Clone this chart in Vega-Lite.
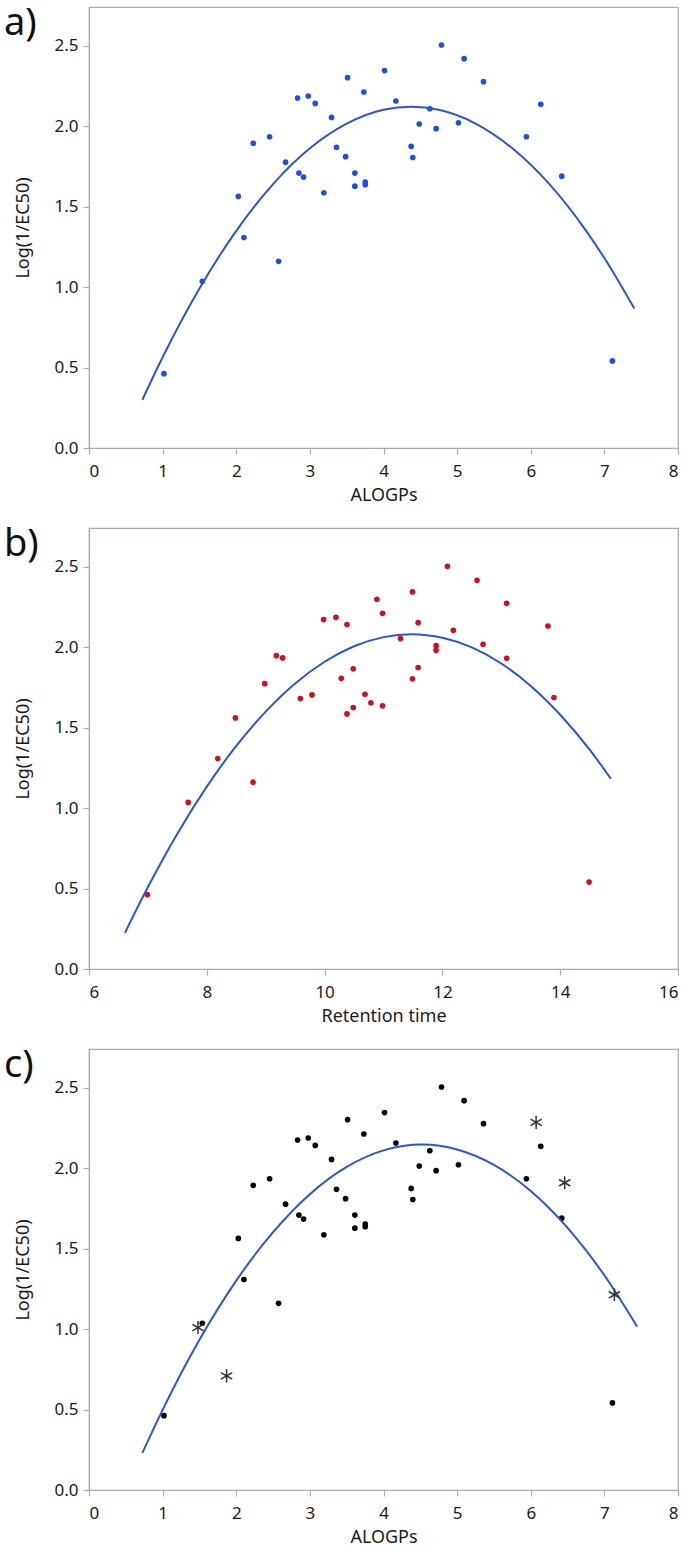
{
  "$schema": "https://vega.github.io/schema/vega-lite/v6.json",
  "padding": {"left": 3, "top": 4, "right": 5, "bottom": 0},
  "spacing": 20,
  "config": {
    "font": "Noto Sans",
    "view": {"stroke": "#a3adb2", "strokeWidth": 1.2},
    "axis": {
      "grid": false,
      "domainColor": "#a3adb2",
      "domainWidth": 1.2,
      "tickColor": "#a3adb2",
      "tickWidth": 1.2,
      "tickSize": 6,
      "labelFont": "Noto Sans",
      "labelFontSize": 17,
      "labelColor": "#1a1a1a",
      "titleFont": "Noto Sans",
      "titleFontSize": 18,
      "titleFontWeight": "normal",
      "titleColor": "#1a1a1a"
    },
    "axisX": {"labelPadding": 9, "titlePadding": 7},
    "axisY": {"labelPadding": 5, "titlePadding": 21},
    "title": {"font": "Noto Sans", "fontSize": 38, "fontWeight": "normal", "color": "#111111", "anchor": "start", "frame": "bounds", "baseline": "top", "offset": 0, "dx": -11, "dy": 40}
  },
  "datasets": {
    "alogp": [
      {"x": 1.018, "y": 0.462}, {"x": 1.539, "y": 1.036}, {"x": 2.028, "y": 1.563}, {"x": 2.104, "y": 1.308},
      {"x": 2.231, "y": 1.893}, {"x": 2.453, "y": 1.934}, {"x": 2.575, "y": 1.160}, {"x": 2.670, "y": 1.776},
      {"x": 2.833, "y": 2.174}, {"x": 2.978, "y": 2.187}, {"x": 3.073, "y": 2.141}, {"x": 2.851, "y": 1.708},
      {"x": 2.914, "y": 1.683}, {"x": 3.190, "y": 1.586}, {"x": 3.294, "y": 2.054}, {"x": 3.362, "y": 1.868},
      {"x": 3.485, "y": 1.810}, {"x": 3.512, "y": 2.301}, {"x": 3.733, "y": 2.212}, {"x": 3.611, "y": 1.708},
      {"x": 3.611, "y": 1.627}, {"x": 3.752, "y": 1.652}, {"x": 3.752, "y": 1.636}, {"x": 4.014, "y": 2.345},
      {"x": 4.168, "y": 2.156}, {"x": 4.629, "y": 2.108}, {"x": 4.485, "y": 2.013}, {"x": 4.715, "y": 1.984},
      {"x": 4.376, "y": 1.874}, {"x": 4.398, "y": 1.805}, {"x": 4.788, "y": 2.504}, {"x": 5.095, "y": 2.419},
      {"x": 5.018, "y": 2.021}, {"x": 5.358, "y": 2.276}, {"x": 5.941, "y": 1.934}, {"x": 6.136, "y": 2.135},
      {"x": 6.421, "y": 1.689}, {"x": 7.109, "y": 0.541}
    ],
    "rt": [
      {"x": 6.99, "y": 0.462}, {"x": 7.685, "y": 1.035}, {"x": 8.186, "y": 1.308}, {"x": 8.486, "y": 1.560},
      {"x": 8.786, "y": 1.161}, {"x": 8.983, "y": 1.773}, {"x": 9.181, "y": 1.947}, {"x": 9.288, "y": 1.933},
      {"x": 9.588, "y": 1.680}, {"x": 9.786, "y": 1.703}, {"x": 9.983, "y": 2.171}, {"x": 10.193, "y": 2.185},
      {"x": 10.380, "y": 2.140}, {"x": 10.283, "y": 1.806}, {"x": 10.380, "y": 1.585}, {"x": 10.486, "y": 1.865},
      {"x": 10.486, "y": 1.624}, {"x": 10.685, "y": 1.707}, {"x": 10.786, "y": 1.654}, {"x": 10.983, "y": 1.635},
      {"x": 10.888, "y": 2.297}, {"x": 10.983, "y": 2.210}, {"x": 11.288, "y": 2.053}, {"x": 11.492, "y": 2.343},
      {"x": 11.588, "y": 2.152}, {"x": 11.492, "y": 1.803}, {"x": 11.588, "y": 1.873}, {"x": 11.893, "y": 2.009},
      {"x": 11.893, "y": 1.980}, {"x": 12.085, "y": 2.502}, {"x": 12.186, "y": 2.104}, {"x": 12.588, "y": 2.415},
      {"x": 12.690, "y": 2.018}, {"x": 13.091, "y": 2.272}, {"x": 13.091, "y": 1.931}, {"x": 13.792, "y": 2.131},
      {"x": 13.893, "y": 1.687}, {"x": 14.49, "y": 0.540}
    ],
    "pred": [
      {"x": 1.480, "y": 1.009}, {"x": 1.869, "y": 0.709}, {"x": 6.073, "y": 2.284}, {"x": 6.461, "y": 1.909}, {"x": 7.136, "y": 1.213}
    ],
    "curveA": [
      {"x": 0.725, "y": 0.300}, {"x": 1.0, "y": 0.564}, {"x": 1.5, "y": 0.991}, {"x": 2.0, "y": 1.349},
      {"x": 2.5, "y": 1.640}, {"x": 3.0, "y": 1.862}, {"x": 3.5, "y": 2.015}, {"x": 4.0, "y": 2.101},
      {"x": 4.376, "y": 2.120}, {"x": 4.75, "y": 2.101}, {"x": 5.25, "y": 2.016}, {"x": 5.75, "y": 1.862},
      {"x": 6.25, "y": 1.641}, {"x": 6.75, "y": 1.351}, {"x": 7.0, "y": 1.180}, {"x": 7.407, "y": 0.866}
    ],
    "curveB": [
      {"x": 6.61, "y": 0.224}, {"x": 7.0, "y": 0.509}, {"x": 7.5, "y": 0.841}, {"x": 8.0, "y": 1.133},
      {"x": 8.5, "y": 1.386}, {"x": 9.0, "y": 1.599}, {"x": 9.5, "y": 1.774}, {"x": 10.0, "y": 1.909},
      {"x": 10.5, "y": 2.005}, {"x": 11.0, "y": 2.062}, {"x": 11.476, "y": 2.080}, {"x": 12.0, "y": 2.058},
      {"x": 12.5, "y": 1.998}, {"x": 13.0, "y": 1.898}, {"x": 13.5, "y": 1.759}, {"x": 14.0, "y": 1.580},
      {"x": 14.5, "y": 1.363}, {"x": 14.86, "y": 1.182}
    ],
    "curveC": [
      {"x": 0.725, "y": 0.231}, {"x": 1.0, "y": 0.498}, {"x": 1.5, "y": 0.933}, {"x": 2.0, "y": 1.301},
      {"x": 2.5, "y": 1.602}, {"x": 3.0, "y": 1.838}, {"x": 3.5, "y": 2.007}, {"x": 4.0, "y": 2.110},
      {"x": 4.525, "y": 2.146}, {"x": 5.0, "y": 2.116}, {"x": 5.5, "y": 2.020}, {"x": 6.0, "y": 1.858},
      {"x": 6.5, "y": 1.629}, {"x": 7.0, "y": 1.334}, {"x": 7.444, "y": 1.016}
    ]
  },
  "vconcat": [
    {
      "title": {"text": "a)"},
      "width": 589,
      "height": 441,
      "layer": [
        {
          "data": {"name": "alogp"},
          "mark": {"type": "point", "filled": true, "size": 32, "opacity": 1, "color": "#1d4ee6"},
          "encoding": {
            "x": {"field": "x", "type": "quantitative", "scale": {"domain": [0, 8], "nice": false, "zero": false}, "axis": {"values": [0, 1, 2, 3, 4, 5, 6, 7, 8], "format": "d", "title": "ALOGPs"}},
            "y": {"field": "y", "type": "quantitative", "scale": {"domain": [0, 2.74], "nice": false}, "axis": {"values": [0, 0.5, 1, 1.5, 2, 2.5], "format": ".1f", "title": "Log(1/EC50)"}}
          }
        },
        {
          "data": {"name": "curveA"},
          "mark": {"type": "line", "color": "#2b55d9", "strokeWidth": 2, "interpolate": "monotone"},
          "encoding": {
            "x": {"field": "x", "type": "quantitative"},
            "y": {"field": "y", "type": "quantitative"}
          }
        }
      ]
    },
    {
      "title": {"text": "b)"},
      "width": 589,
      "height": 441,
      "layer": [
        {
          "data": {"name": "rt"},
          "mark": {"type": "point", "filled": true, "size": 32, "opacity": 1, "color": "#d0101f"},
          "encoding": {
            "x": {"field": "x", "type": "quantitative", "scale": {"domain": [6, 16], "nice": false, "zero": false}, "axis": {"values": [6, 8, 10, 12, 14, 16], "format": "d", "title": "Retention time"}},
            "y": {"field": "y", "type": "quantitative", "scale": {"domain": [0, 2.74], "nice": false}, "axis": {"values": [0, 0.5, 1, 1.5, 2, 2.5], "format": ".1f", "title": "Log(1/EC50)"}}
          }
        },
        {
          "data": {"name": "curveB"},
          "mark": {"type": "line", "color": "#2b55d9", "strokeWidth": 2, "interpolate": "monotone"},
          "encoding": {
            "x": {"field": "x", "type": "quantitative"},
            "y": {"field": "y", "type": "quantitative"}
          }
        }
      ]
    },
    {
      "title": {"text": "c)"},
      "width": 589,
      "height": 441,
      "layer": [
        {
          "data": {"name": "alogp"},
          "mark": {"type": "point", "filled": true, "size": 32, "opacity": 1, "color": "#000000"},
          "encoding": {
            "x": {"field": "x", "type": "quantitative", "scale": {"domain": [0, 8], "nice": false, "zero": false}, "axis": {"values": [0, 1, 2, 3, 4, 5, 6, 7, 8], "format": "d", "title": "ALOGPs"}},
            "y": {"field": "y", "type": "quantitative", "scale": {"domain": [0, 2.74], "nice": false}, "axis": {"values": [0, 0.5, 1, 1.5, 2, 2.5], "format": ".1f", "title": "Log(1/EC50)"}}
          }
        },
        {
          "data": {"name": "curveC"},
          "mark": {"type": "line", "color": "#2b55d9", "strokeWidth": 2, "interpolate": "monotone"},
          "encoding": {
            "x": {"field": "x", "type": "quantitative"},
            "y": {"field": "y", "type": "quantitative"}
          }
        },
        {
          "data": {"name": "pred"},
          "mark": {"type": "point", "filled": false, "shape": "M0,-1L0,1M-0.866,-0.5L0.866,0.5M-0.866,0.5L0.866,-0.5", "size": 170, "strokeWidth": 1.5, "color": "#333333", "opacity": 1},
          "encoding": {
            "x": {"field": "x", "type": "quantitative"},
            "y": {"field": "y", "type": "quantitative"}
          }
        }
      ]
    }
  ]
}
